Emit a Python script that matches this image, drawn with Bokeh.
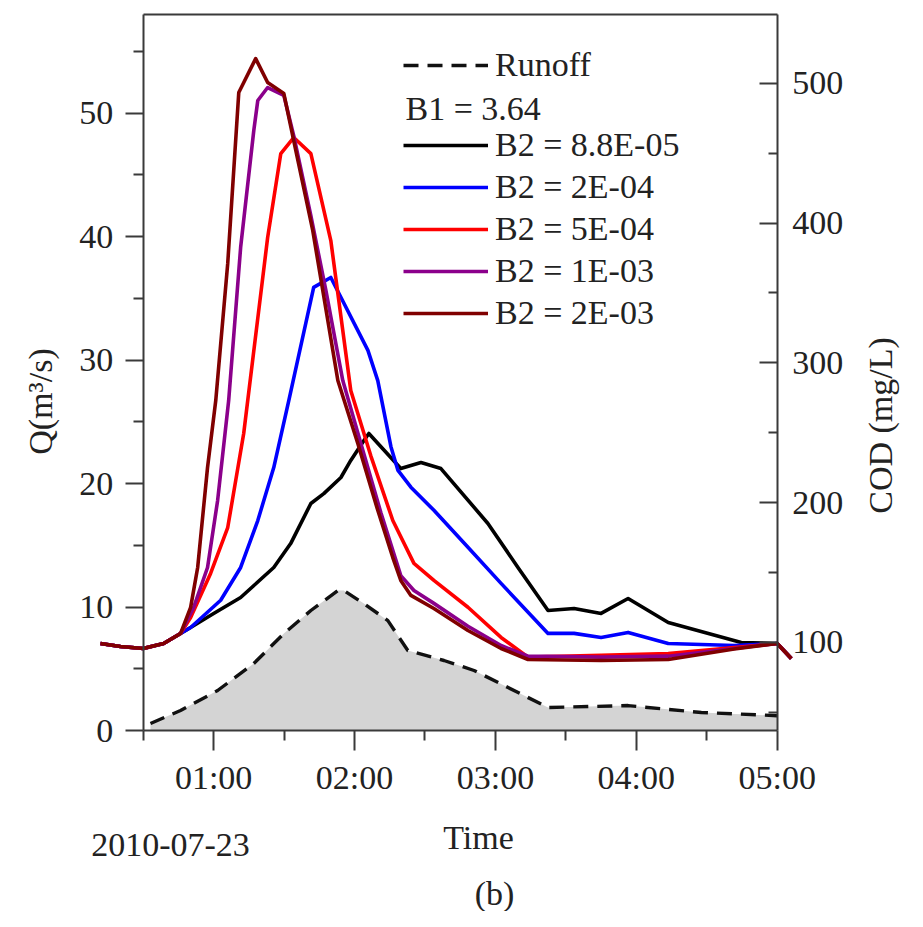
import math
import pandas as pd
from bokeh.plotting import figure
from bokeh.models import (Range1d, LinearAxis, FixedTicker, DatetimeTickFormatter,
                          Legend, LegendItem, Label, ColumnDataSource)
from bokeh.embed import file_html
from bokeh.resources import INLINE

DATE = "2010-07-23"

# ---- data (time = minutes after midnight) ----
runoff_min = [33.1, 45.9, 61.7, 77.1, 89.9, 101.4, 112.9, 115.4, 124.0, 134.2, 142.7,
              158.1, 170.9, 185.4, 202.4, 236.5, 267.7, 300.0]
runoff_q = [0.57, 1.62, 3.24, 5.43, 7.85, 9.72, 11.34, 11.34, 10.28, 8.90, 6.48,
            5.67, 4.86, 3.48, 1.86, 2.02, 1.46, 1.20]

b1_text = "B1 = 3.64"

black_min = [11.8, 20.3, 30.0, 38.7, 45.9, 50.2, 60.0, 71.5, 85.6, 92.8, 101.4, 106.9, 114.2,
             118.4, 124.0, 126.1, 139.7, 148.3, 156.8, 176.8, 189.6, 202.4, 213.5, 225.0,
             236.5, 253.6, 284.7, 300.0, 306.0]
black_cod = [99.1, 96.9, 95.5, 99.1, 106.2, 110.5, 120.6, 132.0, 153.5, 170.6, 199.3, 206.4, 217.9,
             230.1, 244.4, 249.4, 224.3, 228.6, 224.3, 185.0, 153.5, 122.7, 124.1, 120.6,
             131.3, 114.1, 99.8, 99.1, 88.3]

blue_min = [11.8, 20.3, 30.0, 38.7, 45.9, 50.2, 63.0, 71.5, 78.8, 85.6, 92.0, 102.6, 109.9,
            125.7, 129.9, 135.5, 138.5, 144.0, 153.8, 168.3, 182.4, 202.4, 213.5, 225.0,
            236.5, 253.6, 281.7, 300.0, 306.0]
blue_cod = [99.1, 96.9, 95.5, 99.1, 106.2, 110.5, 130.0, 153.5, 187.1, 225.0, 273.0, 354.0, 361.1,
            308.9, 287.3, 240.0, 223.0, 211.0, 194.4, 168.0, 142.1, 106.3, 106.3, 103.4,
            107.0, 99.1, 97.6, 99.1, 88.3]

red_min = [11.8, 20.3, 30.0, 38.7, 45.9, 50.2, 58.7, 66.0, 72.8, 83.0, 88.6, 94.1, 101.4,
           109.9, 118.4, 126.9, 136.3, 145.3, 153.8, 168.3, 182.4, 193.9, 225.0, 253.6,
           281.7, 300.0, 306.0]
red_cod = [99.1, 96.9, 95.5, 99.1, 106.2, 117.7, 149.2, 182.1, 249.4, 389.7, 449.8, 461.3, 449.8,
           387.5, 280.2, 233.6, 187.1, 156.4, 144.2, 125.0, 103.4, 89.3, 90.7, 91.9,
           96.2, 99.1, 88.3]

purple_min = [11.8, 20.3, 30.0, 38.7, 45.9, 51.5, 57.4, 61.7, 66.4, 71.5, 77.1, 78.8, 83.0,
              89.9, 94.1, 101.4, 107.8, 115.0, 122.7, 131.2, 139.7, 145.3, 153.8, 168.3,
              182.4, 193.9, 225.0, 253.6, 281.7, 300.0, 306.0]
purple_cod = [99.1, 96.9, 95.5, 99.1, 106.2, 124.9, 153.5, 201.5, 273.0, 382.7, 466.3, 487.8, 497.1,
              491.4, 462.7, 405.4, 351.8, 287.3, 242.2, 192.8, 147.7, 137.0, 127.8, 111.4,
              97.6, 90.0, 89.3, 90.0, 95.5, 99.1, 88.3]

darkred_min = [11.8, 20.3, 30.0, 38.7, 45.9, 50.2, 53.2, 57.4, 60.9, 66.0, 70.7, 77.9, 83.0,
               89.9, 95.0, 102.2, 112.9, 121.4, 129.9, 136.3, 139.7, 144.0, 153.8, 168.3,
               182.4, 193.9, 225.0, 253.6, 281.7, 300.0, 306.0]
darkred_cod = [99.1, 96.9, 95.5, 99.1, 106.2, 124.9, 153.5, 225.1, 273.0, 371.2, 493.5, 517.8, 500.7,
               492.8, 451.9, 394.8, 287.3, 242.2, 194.4, 160.6, 144.2, 133.5, 124.1, 108.4,
               95.5, 87.6, 86.9, 87.6, 95.1, 99.1, 88.3]

series_labels = ["B2 = 8.8E-05", "B2 = 2E-04", "B2 = 5E-04", "B2 = 1E-03", "B2 = 2E-03"]
series_colors = ["#000000", "#0000FF", "#FF0000", "#8B008B", "#800000"]

q_ticks = [0, 10, 20, 30, 40, 50]
q_minor = [5, 15, 25, 35, 45, 55]
cod_ticks = [100, 200, 300, 400, 500]
cod_minor = [50, 150, 250, 350, 450]
time_ticks = ["01:00", "02:00", "03:00", "04:00", "05:00"]
time_minor = ["00:30", "01:30", "02:30", "03:30", "04:30"]

# ---- helpers ----
BASE = pd.Timestamp(DATE)


def to_dt(mins):
    return [BASE + pd.Timedelta(minutes=m) for m in mins]


def ms_of_min(m):
    return (BASE + pd.Timedelta(minutes=m)).value / 1e6


def ms_of_hhmm(s):
    return (pd.Timestamp(DATE + " " + s)).value / 1e6


FONT = "Liberation Serif"
FS = "34px"
AXC = "#3a3a3a"
TXT = "#222222"

W, H = 907, 911
# the frame covers the whole canvas; axes are placed at fixed locations inside it
Q_TOP = 58.0
COD_LO, COD_HI = 36.7, 549.4

p = figure(width=W, height=H, x_axis_type="datetime", y_axis_location=None,
           x_range=Range1d(ms_of_min(-30.77), ms_of_min(355.49)),
           y_range=Range1d(-14.66, 59.13),
           output_backend="svg", toolbar_location=None,
           min_border_left=0, min_border_right=0, min_border_top=0, min_border_bottom=0)
p.extra_y_ranges = {"cod": Range1d(-92.8, 559.4)}
p.grid.visible = False
p.outline_line_color = None
p.background_fill_color = "white"
p.border_fill_color = "white"


def style_axis(ax):
    ax.axis_line_color = AXC
    ax.axis_line_width = 2
    ax.major_tick_line_color = AXC
    ax.major_tick_line_width = 2
    ax.minor_tick_line_color = AXC
    ax.minor_tick_line_width = 2
    ax.major_label_text_font = FONT
    ax.major_label_text_font_size = FS
    ax.major_label_text_color = TXT


# x axis (bottom, at Q = 0)
xa = p.xaxis[0]
style_axis(xa)
xa.fixed_location = 0
xa.bounds = (ms_of_hhmm("00:30"), ms_of_hhmm("05:00"))
xa.ticker = FixedTicker(ticks=[ms_of_hhmm(t) for t in time_ticks],
                        minor_ticks=[ms_of_hhmm(t) for t in time_minor])
fmt = "%H:%M"
xa.formatter = DatetimeTickFormatter(microseconds=fmt, milliseconds=fmt, seconds=fmt, minsec=fmt,
                                     minutes=fmt, hourmin=fmt, hours=fmt, days=fmt,
                                     months=fmt, years=fmt)
xa.major_tick_in = 0
xa.major_tick_out = 20
xa.minor_tick_in = 0
xa.minor_tick_out = 10
xa.major_label_standoff = 8

# left axis (Q)
yl = LinearAxis(fixed_location=ms_of_hhmm("00:30"), bounds=(0, Q_TOP),
                ticker=FixedTicker(ticks=q_ticks, minor_ticks=q_minor))
style_axis(yl)
yl.major_tick_in = 0
yl.major_tick_out = 18
yl.minor_tick_in = 0
yl.minor_tick_out = 10
yl.major_label_standoff = 12
p.add_layout(yl, "left")

# right axis (COD)
yr = LinearAxis(y_range_name="cod", fixed_location=ms_of_hhmm("05:00"), bounds=(COD_LO, COD_HI),
                ticker=FixedTicker(ticks=cod_ticks, minor_ticks=cod_minor))
style_axis(yr)
yr.major_tick_in = 18
yr.major_tick_out = 0
yr.minor_tick_in = 9
yr.minor_tick_out = 0
yr.major_label_standoff = 15
p.add_layout(yr, "right")

# top border
top = LinearAxis(fixed_location=Q_TOP, bounds=(ms_of_hhmm("00:30"), ms_of_hhmm("05:00")),
                 ticker=FixedTicker(ticks=[]))
top.axis_line_color = AXC
top.axis_line_width = 2
top.major_tick_line_color = None
top.minor_tick_line_color = None
top.major_label_text_font_size = "0px"
p.add_layout(top, "above")

# ---- glyphs ----
rsrc = ColumnDataSource(dict(t=to_dt(runoff_min), q=runoff_q))
p.varea(x="t", y1=0, y2="q", source=rsrc, fill_color="#d4d4d4")
r_runoff = p.line(x="t", y="q", source=rsrc, line_color="#111111", line_width=3.4,
                  line_dash="15 9")

all_min = [black_min, blue_min, red_min, purple_min, darkred_min]
all_cod = [black_cod, blue_cod, red_cod, purple_cod, darkred_cod]
renderers = []
for mins, cod, col in zip(all_min, all_cod, series_colors):
    src = ColumnDataSource(dict(t=to_dt(mins), c=cod))
    r = p.line(x="t", y="c", source=src, y_range_name="cod", line_color=col,
               line_width=3.6, line_join="round")
    renderers.append(r)


# ---- legends ----
def make_legend(items, loc):
    lg = Legend(items=items, location=loc, orientation="vertical")
    lg.label_text_font = FONT
    lg.label_text_font_size = FS
    lg.label_text_color = TXT
    lg.glyph_width = 85
    lg.glyph_height = 42
    lg.label_height = 42
    lg.label_standoff = 7
    lg.spacing = 0
    lg.padding = 0
    lg.margin = 0
    lg.border_line_color = None
    lg.background_fill_alpha = 0
    return lg


leg1 = make_legend([LegendItem(label="Runoff", renderers=[r_runoff])], (403, H - 86))
leg2 = make_legend([LegendItem(label=lab, renderers=[r]) for lab, r in zip(series_labels, renderers)],
                   (403, H - 334))
p.add_layout(leg1, "center")
p.add_layout(leg2, "center")


def add_text(txt, x, y_from_top, align="center", angle=0.0):
    lab = Label(x=x, y=H - y_from_top, x_units="screen", y_units="screen", text=txt,
                text_font=FONT, text_font_size=FS, text_color=TXT,
                text_align=align, text_baseline="middle", angle=angle)
    p.add_layout(lab)


add_text(b1_text, 405, 108, align="left")
add_text("Q(m³/s)", 40, 401, angle=math.pi / 2)
add_text("COD (mg/L)", 880, 425, angle=math.pi / 2)
add_text("Time", 478, 837)
add_text(DATE, 170, 844)
add_text("(b)", 494, 893)

open("out.html", "w").write(file_html(p, INLINE))
